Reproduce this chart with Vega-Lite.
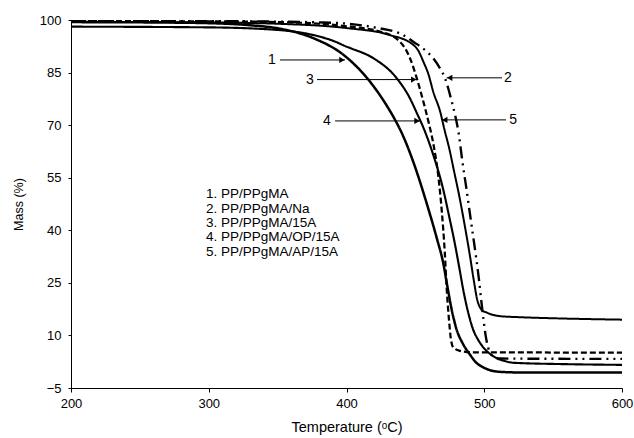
{
  "$schema": "https://vega.github.io/schema/vega-lite/v6.json",
  "width": 551,
  "height": 368,
  "autosize": "none",
  "padding": {"left": 71, "top": 20, "right": 12, "bottom": 50},
  "background": "white",
  "config": {
    "view": {"stroke": null},
    "font": "Liberation Sans",
    "axis": {"grid": false, "domainColor": "black", "tickColor": "black", "labelColor": "black", "titleColor": "black", "labelFont": "Liberation Sans", "titleFont": "Liberation Sans", "labelFontSize": 13, "titleFontWeight": "normal", "domainWidth": 1, "labelFlush": false, "labelOverlap": false}
  },
  "datasets": {
    "curves": [
      {"s": "1", "T": 200, "M": 99.4}, {"s": "1", "T": 260, "M": 99.3}, {"s": "1", "T": 300, "M": 99.1}, {"s": "1", "T": 330, "M": 98.5}, {"s": "1", "T": 352, "M": 97.5}, {"s": "1", "T": 376, "M": 94.8}, {"s": "1", "T": 398, "M": 90.0}, {"s": "1", "T": 415, "M": 83.4}, {"s": "1", "T": 429, "M": 75.7}, {"s": "1", "T": 434, "M": 72.4}, {"s": "1", "T": 441, "M": 67}, {"s": "1", "T": 448.5, "M": 59.5}, {"s": "1", "T": 458.2, "M": 47.7}, {"s": "1", "T": 465.5, "M": 37.8}, {"s": "1", "T": 470.3, "M": 30.5}, {"s": "1", "T": 473, "M": 24.5}, {"s": "1", "T": 476.3, "M": 17.5}, {"s": "1", "T": 480, "M": 11.6}, {"s": "1", "T": 484, "M": 8}, {"s": "1", "T": 489.7, "M": 4.5}, {"s": "1", "T": 494, "M": 2.3}, {"s": "1", "T": 499.3, "M": 0.9}, {"s": "1", "T": 505, "M": 0}, {"s": "1", "T": 512, "M": -0.4}, {"s": "1", "T": 530, "M": -0.6}, {"s": "1", "T": 600, "M": -0.6},
      {"s": "2", "T": 200, "M": 99.8}, {"s": "2", "T": 300, "M": 99.7}, {"s": "2", "T": 383, "M": 99.3}, {"s": "2", "T": 421.6, "M": 97.8}, {"s": "2", "T": 441.2, "M": 95.7}, {"s": "2", "T": 448.5, "M": 93.8}, {"s": "2", "T": 458.2, "M": 91}, {"s": "2", "T": 463, "M": 89.1}, {"s": "2", "T": 467.9, "M": 86.2}, {"s": "2", "T": 471.5, "M": 83.4}, {"s": "2", "T": 475.9, "M": 77.5}, {"s": "2", "T": 478.8, "M": 72.9}, {"s": "2", "T": 481.5, "M": 67.5}, {"s": "2", "T": 484, "M": 60}, {"s": "2", "T": 487.2, "M": 51.5}, {"s": "2", "T": 489.5, "M": 45}, {"s": "2", "T": 491.5, "M": 39.5}, {"s": "2", "T": 494, "M": 32.5}, {"s": "2", "T": 496.3, "M": 25.5}, {"s": "2", "T": 497.8, "M": 20}, {"s": "2", "T": 499.5, "M": 14.4}, {"s": "2", "T": 501, "M": 10}, {"s": "2", "T": 503, "M": 6.3}, {"s": "2", "T": 505.4, "M": 4.4}, {"s": "2", "T": 512, "M": 3.4}, {"s": "2", "T": 600, "M": 3.3},
      {"s": "3", "T": 200, "M": 99.7}, {"s": "3", "T": 300, "M": 99.6}, {"s": "3", "T": 352, "M": 99.4}, {"s": "3", "T": 400, "M": 98.2}, {"s": "3", "T": 424.3, "M": 96.7}, {"s": "3", "T": 438.8, "M": 93.8}, {"s": "3", "T": 446.1, "M": 89.1}, {"s": "3", "T": 451, "M": 83.4}, {"s": "3", "T": 455.8, "M": 76.7}, {"s": "3", "T": 459.5, "M": 71}, {"s": "3", "T": 463, "M": 64.8}, {"s": "3", "T": 466.7, "M": 55.3}, {"s": "3", "T": 469.1, "M": 45.8}, {"s": "3", "T": 471.3, "M": 34}, {"s": "3", "T": 472.8, "M": 23}, {"s": "3", "T": 474.5, "M": 14}, {"s": "3", "T": 475.7, "M": 9.2}, {"s": "3", "T": 477.5, "M": 6.6}, {"s": "3", "T": 482.4, "M": 5.6}, {"s": "3", "T": 490, "M": 5.2}, {"s": "3", "T": 600, "M": 5.1},
      {"s": "4", "T": 200, "M": 98.1}, {"s": "4", "T": 300, "M": 97.9}, {"s": "4", "T": 352, "M": 97.1}, {"s": "4", "T": 376, "M": 95.7}, {"s": "4", "T": 392, "M": 93.8}, {"s": "4", "T": 400, "M": 92.4}, {"s": "4", "T": 404, "M": 91.8}, {"s": "4", "T": 419.5, "M": 89.1}, {"s": "4", "T": 436.4, "M": 83.4}, {"s": "4", "T": 446, "M": 77.7}, {"s": "4", "T": 451, "M": 73.5}, {"s": "4", "T": 455.8, "M": 69.3}, {"s": "4", "T": 463, "M": 61.5}, {"s": "4", "T": 470, "M": 52}, {"s": "4", "T": 474.5, "M": 44}, {"s": "4", "T": 478.5, "M": 36.5}, {"s": "4", "T": 481.8, "M": 29.5}, {"s": "4", "T": 485, "M": 22.5}, {"s": "4", "T": 488.5, "M": 16.3}, {"s": "4", "T": 492, "M": 11.6}, {"s": "4", "T": 495.5, "M": 8.8}, {"s": "4", "T": 499.3, "M": 6.6}, {"s": "4", "T": 504, "M": 4.8}, {"s": "4", "T": 509, "M": 3.5}, {"s": "4", "T": 515, "M": 2.7}, {"s": "4", "T": 521, "M": 2.2}, {"s": "4", "T": 560, "M": 1.8}, {"s": "4", "T": 600, "M": 1.6},
      {"s": "5", "T": 200, "M": 99.5}, {"s": "5", "T": 300, "M": 99.3}, {"s": "5", "T": 352, "M": 98.9}, {"s": "5", "T": 400, "M": 97.7}, {"s": "5", "T": 431.6, "M": 95.7}, {"s": "5", "T": 448.5, "M": 92.9}, {"s": "5", "T": 452.5, "M": 91}, {"s": "5", "T": 455.8, "M": 88.1}, {"s": "5", "T": 459.5, "M": 84.5}, {"s": "5", "T": 463, "M": 79.5}, {"s": "5", "T": 467.9, "M": 74}, {"s": "5", "T": 471.5, "M": 68.1}, {"s": "5", "T": 474.5, "M": 63.5}, {"s": "5", "T": 478, "M": 57}, {"s": "5", "T": 482, "M": 49.5}, {"s": "5", "T": 486, "M": 41}, {"s": "5", "T": 489.5, "M": 33}, {"s": "5", "T": 492.5, "M": 25.5}, {"s": "5", "T": 495, "M": 20}, {"s": "5", "T": 496.9, "M": 18}, {"s": "5", "T": 498.3, "M": 17.2}, {"s": "5", "T": 502, "M": 16.5}, {"s": "5", "T": 506, "M": 15.9}, {"s": "5", "T": 511.4, "M": 15.5}, {"s": "5", "T": 525.9, "M": 15.2}, {"s": "5", "T": 550, "M": 14.9}, {"s": "5", "T": 600, "M": 14.5}
    ],
    "arrows": [
      {"label": "1", "lx": 345.9, "x1": 351.7, "x2": 398.9, "y": 88.6, "dir": "right"},
      {"label": "3", "lx": 373.5, "x1": 378.6, "x2": 451.0, "y": 83.0, "dir": "right"},
      {"label": "4", "lx": 385.8, "x1": 391.7, "x2": 453.4, "y": 71.2, "dir": "right"},
      {"label": "2", "lx": 517.2, "x1": 512.9, "x2": 472.7, "y": 83.5, "dir": "left"},
      {"label": "5", "lx": 520.9, "x1": 515.8, "x2": 469.1, "y": 71.5, "dir": "left"}
    ],
    "legend": [
      {"t": "1. PP/PPgMA", "x": 298.0, "y": 50.4},
      {"t": "2. PP/PPgMA/Na", "x": 298.0, "y": 46.2},
      {"t": "3. PP/PPgMA/15A", "x": 298.0, "y": 42.1},
      {"t": "4. PP/PPgMA/OP/15A", "x": 298.0, "y": 38.0},
      {"t": "5. PP/PPgMA/AP/15A", "x": 298.0, "y": 33.8}
    ]
  },
  "layer": [
    {
      "data": {"name": "curves"},
      "mark": {"type": "line", "color": "black", "interpolate": "monotone", "clip": true},
      "encoding": {
        "x": {"field": "T", "type": "quantitative", "scale": {"domain": [200, 600], "nice": false}, "axis": {"values": [200, 300, 400, 500, 600], "title": "Temperature (ᵒC)", "titleFontSize": 14.5, "titlePadding": 10, "tickSize": 4, "labelPadding": 5}},
        "y": {"field": "M", "type": "quantitative", "scale": {"domain": [-5, 100], "nice": false, "zero": false}, "axis": {"values": [-5, 10, 25, 40, 55, 70, 85, 100], "title": "Mass (%)", "titleFontSize": 12.5, "titlePadding": 14, "tickSize": 3, "labelPadding": 7}},
        "detail": {"field": "s"},
        "strokeDash": {"field": "s", "type": "nominal", "scale": {"domain": ["1", "2", "3", "4", "5"], "range": [[1, 0], [12, 5, 2, 5, 2, 5], [6, 3], [1, 0], [1, 0]]}, "legend": null},
        "strokeWidth": {"field": "s", "type": "nominal", "scale": {"domain": ["1", "2", "3", "4", "5"], "range": [2.5, 2, 2, 1, 1]}, "legend": null}
      }
    },
    {
      "data": {"name": "arrows"},
      "mark": {"type": "rule", "color": "black", "strokeWidth": 1},
      "encoding": {
        "x": {"field": "x1", "type": "quantitative"},
        "x2": {"field": "x2"},
        "y": {"field": "y", "type": "quantitative"}
      }
    },
    {
      "data": {"name": "arrows"},
      "transform": [{"filter": "datum.dir == 'right'"}],
      "mark": {"type": "point", "shape": "triangle-right", "filled": true, "color": "black", "size": 40, "opacity": 1, "xOffset": -3},
      "encoding": {
        "x": {"field": "x2", "type": "quantitative"},
        "y": {"field": "y", "type": "quantitative"}
      }
    },
    {
      "data": {"name": "arrows"},
      "transform": [{"filter": "datum.dir == 'left'"}],
      "mark": {"type": "point", "shape": "triangle-left", "filled": true, "color": "black", "size": 40, "opacity": 1, "xOffset": 3},
      "encoding": {
        "x": {"field": "x2", "type": "quantitative"},
        "y": {"field": "y", "type": "quantitative"}
      }
    },
    {
      "data": {"name": "arrows"},
      "mark": {"type": "text", "fontSize": 14, "color": "black", "align": "center", "baseline": "middle"},
      "encoding": {
        "x": {"field": "lx", "type": "quantitative"},
        "y": {"field": "y", "type": "quantitative"},
        "text": {"field": "label"}
      }
    },
    {
      "data": {"name": "legend"},
      "mark": {"type": "text", "fontSize": 13.5, "color": "black", "align": "left", "baseline": "middle"},
      "encoding": {
        "x": {"field": "x", "type": "quantitative"},
        "y": {"field": "y", "type": "quantitative"},
        "text": {"field": "t"}
      }
    }
  ]
}
